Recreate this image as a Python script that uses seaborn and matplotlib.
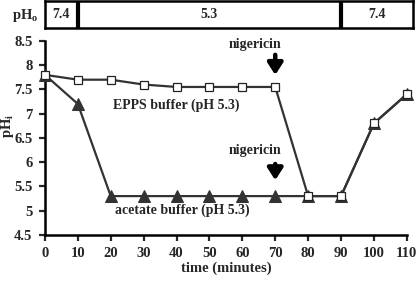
import matplotlib
matplotlib.use("Agg")
import numpy as np
import pandas as pd
import seaborn as sns
import matplotlib.pyplot as plt

# data
time_min = [0, 10, 20, 30, 40, 50, 60, 70, 80, 90, 100, 110]
epps_phi = [7.8, 7.7, 7.7, 7.6, 7.55, 7.55, 7.55, 7.55, 5.3, 5.3, 6.8, 7.4]
acetate_phi = [7.8, 7.2, 5.3, 5.3, 5.3, 5.3, 5.3, 5.3, 5.3, 5.3, 6.8, 7.4]

pho_edges = [0, 10, 90, 112]
pho_labels = ["7.4", "5.3", "7.4"]

df = pd.DataFrame({"time": time_min, "epps": epps_phi, "acetate": acetate_phi})

sns.set_style("ticks")
plt.rcParams["font.family"] = ["Liberation Serif", "DejaVu Serif"]
plt.rcParams["font.weight"] = "bold"

fig = plt.figure(figsize=(4.16, 2.82), dpi=100)
ax = fig.add_axes([0.108, 0.167, 0.870, 0.688])
line_col = "#333333"

sns.lineplot(data=df, x="time", y="acetate", ax=ax, color=line_col, lw=1.6,
             marker="^", markersize=8, markerfacecolor=line_col,
             markeredgecolor=line_col, clip_on=False, zorder=3)
sns.lineplot(data=df, x="time", y="epps", ax=ax, color=line_col, lw=1.6,
             marker="s", markersize=6, markerfacecolor="white",
             markeredgecolor="#222222", markeredgewidth=0.9,
             clip_on=False, zorder=4)

ax.set_xlim(0, 110)
ax.set_ylim(4.5, 8.5)
ax.set_xticks(range(0, 111, 10))
ax.set_yticks(np.arange(4.5, 8.51, 0.5))
ax.set_yticklabels(["4.5", "5", "5.5", "6", "6.5", "7", "7.5", "8", "8.5"])
sns.despine(ax=ax)
for s in ["left", "bottom"]:
    ax.spines[s].set_linewidth(1.8)
    ax.spines[s].set_color("black")
ax.tick_params(direction="out", length=4, width=1.6, labelsize=10.5, pad=5)
for lab in ax.get_xticklabels() + ax.get_yticklabels():
    lab.set_fontweight("bold")

ax.set_xlabel("time (minutes)", fontsize=10.5, fontweight="bold", labelpad=1)
ax.set_ylabel("")
fig.text(0.019, 0.555, "pH$_\\mathregular{i}$", rotation=90, ha="center",
         va="center", fontsize=10.5, fontweight="bold")

ax.text(40, 7.18, "EPPS buffer (pH 5.3)", ha="center", va="center",
        fontsize=10, fontweight="bold")
ax.text(41.8, 5.01, "acetate buffer (pH 5.3)", ha="center", va="center",
        fontsize=10, fontweight="bold")

for ty, y0, y1 in [(8.42, 8.27, 7.74), (6.25, 6.02, 5.57)]:
    ax.text(64, ty, "nigericin", ha="center", va="center", fontsize=10,
            fontweight="bold")
    ax.annotate("", xy=(70, y1), xytext=(70, y0),
                arrowprops=dict(arrowstyle="-|>,head_width=0.45,head_length=0.7",
                                color="black", lw=3.2), annotation_clip=False)

# external pH strip
top = fig.add_axes([0.108, 0.901, 0.885, 0.094])
top.set_xlim(pho_edges[0], pho_edges[-1])
top.set_ylim(0, 1)
top.set_xticks([])
top.set_yticks([])
for s in top.spines.values():
    s.set_linewidth(1.8)
    s.set_color("black")
for xe in pho_edges[1:-1]:
    top.axvline(xe, color="black", lw=3)
for i, lab in enumerate(pho_labels):
    mid = (pho_edges[i] + pho_edges[i + 1]) / 2
    top.text(mid, 0.5, lab, ha="center", va="center", fontsize=10,
             fontweight="bold")
fig.text(0.06, 0.946, "pH$_\\mathregular{o}$", ha="center", va="center",
         fontsize=10.5, fontweight="bold")

fig.savefig("out.png", dpi=100)
